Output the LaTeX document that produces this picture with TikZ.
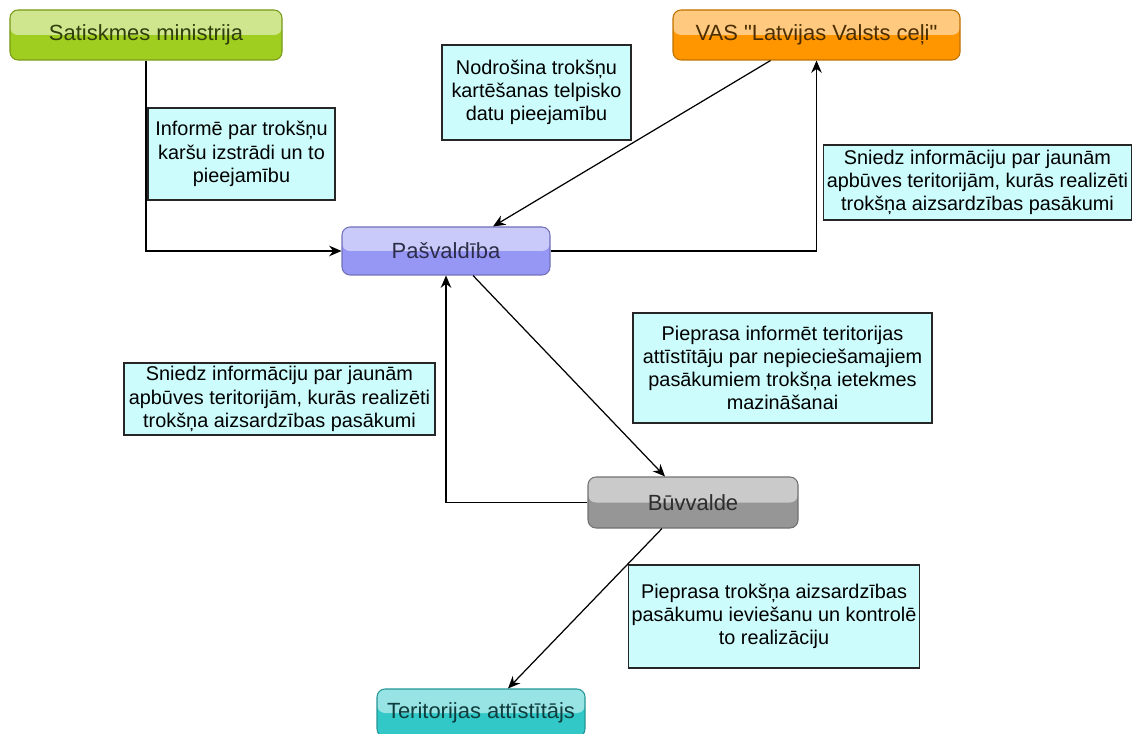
\documentclass[tikz,border=0pt]{standalone}
\usepackage{fontspec}
\setmainfont{Liberation Sans}[Ligatures=TeXOff]
\usetikzlibrary{arrows.meta}

\definecolor{mingreen}{RGB}{160,206,32}
\definecolor{vasorange}{RGB}{255,150,0}
\definecolor{pasviolet}{RGB}{150,150,245}
\definecolor{buvgray}{RGB}{150,150,150}
\definecolor{terteal}{RGB}{50,200,200}
\definecolor{notecyan}{RGB}{204,252,252}

\begin{document}
\begin{tikzpicture}[
		box/.style={draw=#1!75!black, line width=0.6pt, rounded corners=0.16cm, fill=#1, text=#1!30!black,
			minimum height=1cm, font=\fontsize{12.5}{14}\selectfont,
			path picture={\fill[white,opacity=0.5] (path picture bounding box.north west) rectangle (path picture bounding box.east);}},
		note/.style={draw=black!85, line width=0.6pt, fill=notecyan, align=center, inner sep=2pt,
			font=\fontsize{11.3}{13.2}\selectfont},
		link/.style={line width=0.7pt, -{Stealth[length=7pt,width=6pt]}}
	]
		\useasboundingbox (0,0) rectangle (22.64,14.66);
		
		\node[box=mingreen, minimum width=5.44cm] (min) at (2.92,13.96) {Satiskmes ministrija};
		\node[box=vasorange, minimum width=5.74cm] (vas) at (16.33,13.96) {VAS "Latvijas Valsts ceļi"};
		\node[box=pasviolet, minimum width=4.16cm, minimum height=0.96cm] (pas) at (8.92,9.64) {Pašvaldība};
		\node[box=buvgray, minimum width=4.2cm, minimum height=1.02cm] (buv) at (13.86,4.61) {Būvvalde};
		\node[box=terteal, minimum width=4.16cm, minimum height=0.96cm] (ter) at (9.62,0.40) {Teritorijas attīstītājs};
		
		\node[note, minimum width=3.74cm, minimum height=1.84cm] (inf) at (4.83,11.58) {Informē par trokšņu\\karšu izstrādi un to\\pieejamību};
		\node[note, minimum width=3.78cm, minimum height=1.9cm] (nod) at (10.73,12.81) {Nodrošina trokšņu\\kartēšanas telpisko\\datu pieejamību};
		\node[note, minimum width=6.1cm, minimum height=1.5cm] (snr) at (19.55,11.01) {Sniedz informāciju par jaunām\\apbūves teritorijām, kurās realizēti\\trokšņa aizsardzības pasākumi};
		\node[note, minimum width=6.22cm, minimum height=1.44cm] (snl) at (5.59,6.68) {Sniedz informāciju par jaunām\\apbūves teritorijām, kurās realizēti\\trokšņa aizsardzības pasākumi};
		\node[note, minimum width=5.98cm, minimum height=2.2cm] (pri) at (15.65,7.30) {Pieprasa informēt teritorijas\\attīstītāju par nepieciešamajiem\\pasākumiem trokšņa ietekmes\\mazināšanai};
		\node[note, minimum width=5.76cm, minimum height=2.06cm] (prt) at (15.48,2.33) {Pieprasa trokšņa aizsardzības\\pasākumu ieviešanu un kontrolē\\to realizāciju};
		
		\draw[link] (min.south) |- (pas.west);
		\draw[link] ([xshift=-0.92cm]vas.south) -- ([xshift=0.94cm]pas.north);
		\draw[link] (pas.east) -| (vas.south);
		\draw[link] ([xshift=0.54cm]pas.south) -- ([xshift=-0.56cm]buv.north);
		\draw[link] (buv.west) -| (pas.south);
		\draw[link] ([xshift=-0.62cm]buv.south) -- ([xshift=0.54cm]ter.north);
		\end{tikzpicture}
\end{document}
